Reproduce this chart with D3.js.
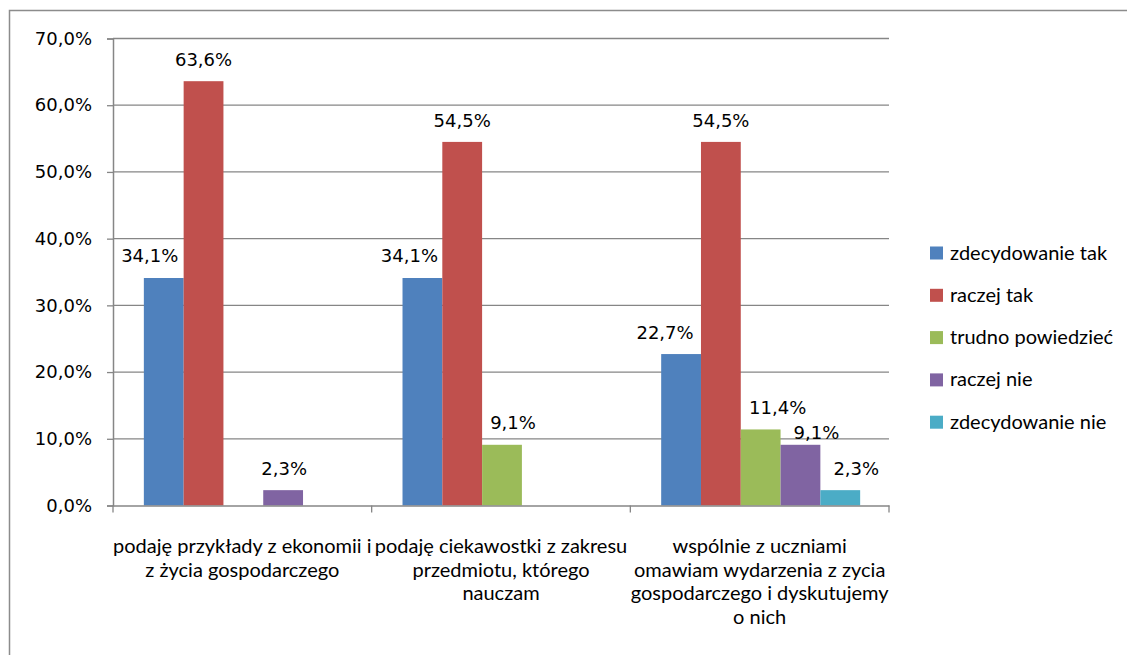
<!DOCTYPE html>
<html>
<head>
<meta charset="utf-8">
<script src="https://cdn.jsdelivr.net/npm/d3@7"></script>
<style>
  html, body { margin: 0; padding: 0; background: #fff; }
  svg { display: block; }
</style>
</head>
<body>
<svg id="chart" width="1127" height="655"></svg>
<script>
// ---- data ----
const categories = [
  "podaję przykłady z ekonomii i z życia gospodarczego",
  "podaję ciekawostki z zakresu przedmiotu, którego nauczam",
  "wspólnie z uczniami omawiam wydarzenia z zycia gospodarczego i dyskutujemy o nich"
];
const categoryLines = [
  ["podaję przykłady z ekonomii i", "z życia gospodarczego"],
  ["podaję ciekawostki z zakresu", "przedmiotu, którego", "nauczam"],
  ["wspólnie z uczniami", "omawiam wydarzenia z zycia", "gospodarczego i dyskutujemy", "o nich"]
];
const seriesNames = ["zdecydowanie tak", "raczej tak", "trudno powiedzieć", "raczej nie", "zdecydowanie nie"];
// values per series, across categories (null = no bar / no label)
const zdecydowanieTak = [34.1, 34.1, 22.7];
const raczejTak = [63.6, 54.5, 54.5];
const trudnoPowiedziec = [null, 9.1, 11.4];
const raczejNie = [2.3, null, 9.1];
const zdecydowanieNie = [null, null, 2.3];
const seriesValues = [zdecydowanieTak, raczejTak, trudnoPowiedziec, raczejNie, zdecydowanieNie];
const yTicks = [0, 10, 20, 30, 40, 50, 60, 70];

// ---- styles / layout (not data) ----
const seriesColors = ["#4F81BD", "#C0504D", "#9BBB59", "#8064A2", "#4BACC6"];
// manual label nudges as in the original [series][category] -> [dx, dy]
const labelNudge = [
  [[-14, -1], [-13, -1], [-16, 0]],
  [[0, 0], [0, 0], [0, 0]],
  [[0, 0], [11, -1], [17, 0]],
  [[1, 0], [0, 0], [16, 9]],
  [[0, 0], [0, 0], [16, 0]]
];

const svg = d3.select("#chart");
const plot = { left: 113, right: 889, top: 38.5, bottom: 505.5 };
const gridColor = "#868686";
const numFont = "'DejaVu Sans', Verdana, sans-serif";
const txtFont = "Lato, 'Open Sans', sans-serif";
const numSize = 18;
const txtSize = 20;

// outer border
svg.append("rect")
  .attr("x", 9.5).attr("y", 10.5)
  .attr("width", 1140).attr("height", 700)
  .attr("fill", "#fff").attr("stroke", "#8c8c8c").attr("stroke-width", 1.5);

const x0 = d3.scaleBand().domain(d3.range(categories.length)).range([plot.left, plot.right]).padding(0);
const bw = x0.bandwidth() / 6.5;
const x1 = d3.scaleBand().domain(d3.range(seriesNames.length))
  .range([bw * 0.75 + 1, bw * 0.75 + 1 + bw * 5]).padding(0);
const y = d3.scaleLinear().domain([0, 70]).range([plot.bottom, plot.top]);

// gridlines
svg.append("g").selectAll("line").data(yTicks.filter(d => d > 0)).join("line")
  .attr("x1", plot.left).attr("x2", plot.right)
  .attr("y1", d => y(d)).attr("y2", d => y(d))
  .attr("stroke", gridColor).attr("stroke-width", 1.3);

// y axis
const fmt = d => d3.format(".1f")(d).replace(".", ",") + "%";
const yAxis = d3.axisLeft(y).tickValues(yTicks).tickSize(6).tickPadding(15).tickFormat(fmt);
const gy = svg.append("g").attr("transform", `translate(${plot.left},0)`).call(yAxis);
gy.select(".domain").attr("stroke", gridColor).attr("stroke-width", 1.5);
gy.selectAll(".tick line").attr("stroke", gridColor).attr("stroke-width", 1.3);
gy.selectAll(".tick text").attr("font-family", numFont).attr("font-size", numSize).attr("fill", "#000");

// bars
const barData = [];
seriesValues.forEach((vals, s) => vals.forEach((v, c) => {
  if (v !== null) barData.push({ s, c, v });
}));
svg.append("g").selectAll("rect").data(barData).join("rect")
  .attr("x", d => x0(d.c) + x1(d.s))
  .attr("width", x1.bandwidth())
  .attr("y", d => y(d.v))
  .attr("height", d => y(0) - y(d.v))
  .attr("fill", d => seriesColors[d.s]);

// value labels
svg.append("g").selectAll("text").data(barData).join("text")
  .attr("x", d => x0(d.c) + x1(d.s) + x1.bandwidth() / 2 + labelNudge[d.s][d.c][0])
  .attr("y", d => y(d.v) - 15 + labelNudge[d.s][d.c][1])
  .attr("text-anchor", "middle")
  .attr("font-family", numFont).attr("font-size", numSize).attr("fill", "#000")
  .text(d => fmt(d.v));

// x axis
const xAxis = d3.axisBottom(x0).tickSize(0).tickFormat("");
const gx = svg.append("g").attr("transform", `translate(0,${plot.bottom})`).call(xAxis);
gx.select(".domain").attr("stroke", gridColor).attr("stroke-width", 1.5);
const sepTicks = d3.range(categories.length + 1).map(i => plot.left + i * x0.bandwidth());
svg.append("g").selectAll("line").data(sepTicks).join("line")
  .attr("x1", d => d).attr("x2", d => d)
  .attr("y1", plot.bottom).attr("y2", plot.bottom + 7)
  .attr("stroke", gridColor).attr("stroke-width", 1.3);

// category labels
const catG = svg.append("g");
categoryLines.forEach((lines, c) => {
  const cx = x0(c) + x0.bandwidth() / 2;
  const t = catG.append("text")
    .attr("x", cx).attr("y", 553)
    .attr("text-anchor", "middle")
    .attr("font-family", txtFont).attr("font-size", txtSize).attr("fill", "#000");
  lines.forEach((ln, i) => {
    t.append("tspan").attr("x", cx).attr("dy", i === 0 ? 0 : 23.5).text(ln);
  });
});

// legend
const lg = svg.append("g").attr("transform", "translate(930,253)");
const li = lg.selectAll("g").data(seriesNames).join("g")
  .attr("transform", (d, i) => `translate(0,${i * 42.3})`);
li.append("rect").attr("x", 0).attr("y", -6.5).attr("width", 13).attr("height", 13)
  .attr("fill", (d, i) => seriesColors[i]);
li.append("text").attr("x", 20).attr("y", 6.5)
  .attr("font-family", txtFont).attr("font-size", txtSize).attr("fill", "#000")
  .text(d => d);
</script>
</body>
</html>
